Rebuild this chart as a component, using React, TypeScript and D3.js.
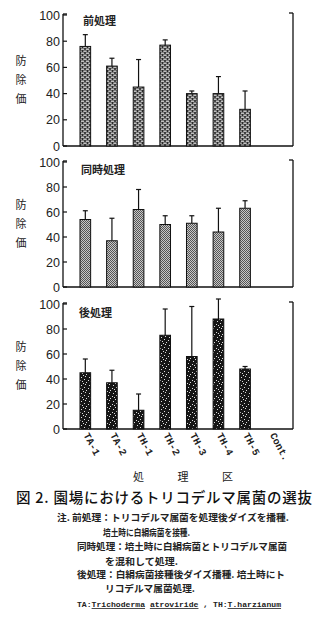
import React from "react";
import * as d3 from "d3";

const categories = ["TA-1", "TA-2", "TH-1", "TH-2", "TH-3", "TH-4", "TH-5", "Cont."];
const yTicks = [0, 20, 40, 60, 80, 100];

const preValues = [76, 61, 45, 77, 40, 40, 28, 0];
const preErr = [85, 67, 66, 81, 42, 53, 42, 0];
const simValues = [54, 37, 62, 50, 51, 44, 63, 0];
const simErr = [61, 55, 78, 57, 57, 63, 69, 0];
const postValues = [45, 37, 15, 75, 58, 88, 48, 0];
const postErr = [56, 47, 28, 96, 98, 104, 50, 0];

const panelTitles = ["前処理", "同時処理", "後処理"];
const yLabelChars = ["防", "除", "価"];
const xTitle = "処 理 区";
const figTitle = "図 2.  園場におけるトリコデルマ属菌の選抜";
const notes = [
  "注. 前処理：トリコデルマ属菌を処理後ダイズを播種.",
  "培土時に白絹病菌を接種.",
  "同時処理：培土時に白絹病菌とトリコデルマ属菌",
  "を混和して処理.",
  "後処理：白絹病菌接種後ダイズ播種. 培土時にト",
  "リコデルマ属菌処理.",
];
const speciesNote = [
  { t: "TA:", u: false },
  { t: "Trichoderma", u: true },
  { t: " ", u: false },
  { t: "atroviride", u: true },
  { t: " , TH:", u: false },
  { t: "T.harzianum", u: true },
];

const W = 322;
const H = 626;
const axisLeft = 63;
const axisRight = 293;

const panels = [
  { title: panelTitles[0], values: preValues, err: preErr, y0: 146, y100: 15, fill: "url(#brick)", titleX: 83, titleY: 25 },
  { title: panelTitles[1], values: simValues, err: simErr, y0: 287, y100: 162, fill: "url(#grey)", titleX: 81, titleY: 174 },
  { title: panelTitles[2], values: postValues, err: postErr, y0: 429, y100: 304, fill: "url(#dark)", titleX: 79, titleY: 317 },
];

const x = d3.scaleBand<string>().domain(categories).range([72, 285]).paddingInner(0.6).paddingOuter(0.3);

const noteLayout = [
  { x: 57, y: 521, w: 232 },
  { x: 103, y: 536, w: 87 },
  { x: 77, y: 550, w: 210 },
  { x: 105, y: 565, w: 73 },
  { x: 77, y: 578, w: 208 },
  { x: 105, y: 592, w: 90 },
];

const font = "'Liberation Sans', Arial, sans-serif";
const cjk = "'Noto Sans CJK JP', sans-serif";
const mono = "'Liberation Mono', 'DejaVu Sans Mono', monospace";

export default function App() {
  const speckles = [
    [1, 1], [4, 3], [2, 5], [6, 6], [5, 0], [0, 4], [3, 7],
  ];
  return (
    <svg width={W} height={H} style={{ position: "absolute", left: 0, top: 0, background: "#fff" }}>
      <defs>
        <pattern id="brick" width="5" height="4" patternUnits="userSpaceOnUse">
          <rect width="5" height="4" fill="#2a2a2a" />
          <rect x="0.8" y="0.6" width="3.4" height="1.1" fill="#fff" />
          <rect x="0" y="2.6" width="1.7" height="1.1" fill="#fff" />
          <rect x="3.3" y="2.6" width="1.7" height="1.1" fill="#fff" />
        </pattern>
        <pattern id="grey" width="2" height="2" patternUnits="userSpaceOnUse">
          <rect width="2" height="2" fill="#c8c8c8" />
          <rect width="1" height="1" fill="#555" />
          <rect x="1" y="1" width="1" height="1" fill="#555" />
        </pattern>
        <pattern id="dark" width="8" height="8" patternUnits="userSpaceOnUse">
          <rect width="8" height="8" fill="#161616" />
          {speckles.map(([a, b], i) => (
            <rect key={i} x={a} y={b} width="1" height="1" fill="#ddd" />
          ))}
        </pattern>
      </defs>

      {panels.map((p, pi) => {
        const y = d3.scaleLinear().domain([0, 100]).range([p.y0, p.y100]);
        const top = y(100);
        const mid = (p.y0 + top) / 2;
        return (
          <g key={pi}>
            <line x1={axisLeft} x2={axisLeft} y1={top - 1} y2={p.y0} stroke="#111" strokeWidth={1.3} />
            <line x1={axisLeft} x2={axisLeft + 4} y1={top - 1} y2={top - 1} stroke="#111" strokeWidth={1.3} />
            <line x1={axisLeft} x2={axisRight} y1={p.y0} y2={p.y0} stroke="#111" strokeWidth={1.3} />
            <line x1={axisRight} x2={axisRight} y1={top - 2} y2={p.y0} stroke="#111" strokeWidth={1.3} />
            <line x1={axisRight - 4} x2={axisRight} y1={top - 2} y2={top - 2} stroke="#111" strokeWidth={1.3} />
            {yTicks.map((t) => (
              <g key={t}>
                <line x1={axisLeft} x2={axisLeft + 4} y1={y(t)} y2={y(t)} stroke="#111" strokeWidth={1.2} />
                <text x={axisLeft - 3} y={y(t)} dy="0.36em" textAnchor="end" fontFamily={font} fontSize={12.5} fill="#222">
                  {t}
                </text>
              </g>
            ))}
            {yLabelChars.map((c, i) => (
              <text key={c} x={21} y={mid + (i - 1) * 19} dy="0.36em" textAnchor="middle" fontFamily={cjk} fontSize={11} fill="#222">
                {c}
              </text>
            ))}
            <text x={p.titleX} y={p.titleY} fontFamily={cjk} fontWeight={700} fontSize={11} fill="#222">
              {p.title}
            </text>
            {categories.map((c, i) => {
              const v = p.values[i];
              if (!v) return null;
              const bx = x(c)!;
              const bw = x.bandwidth();
              const cx = bx + bw / 2;
              return (
                <g key={c}>
                  <line x1={cx} x2={cx} y1={y(v)} y2={y(p.err[i])} stroke="#111" strokeWidth={1.2} />
                  <line x1={cx - 2.5} x2={cx + 2.5} y1={y(p.err[i])} y2={y(p.err[i])} stroke="#111" strokeWidth={1.2} />
                  <rect x={bx} y={y(v)} width={bw} height={p.y0 - y(v)} fill={p.fill} stroke="#111" strokeWidth={1} />
                </g>
              );
            })}
          </g>
        );
      })}

      {categories.map((c) => {
        const cx = x(c)! + x.bandwidth() / 2;
        return (
          <text key={c} transform={`translate(${cx - 2},${435}) rotate(62)`} fontFamily={mono} fontWeight={700} fontSize={10} fill="#222">
            {c}
          </text>
        );
      })}

      <text x={133} y={481} textLength={100} lengthAdjust="spacing" fontFamily={cjk} fontSize={11} fill="#222">
        {xTitle}
      </text>
      <text x={16} y={503} textLength={296} lengthAdjust="spacing" fontFamily={cjk} fontWeight={500} fontSize={14.5} fill="#111">
        {figTitle}
      </text>
      {notes.map((n, i) => (
        <text key={i} x={noteLayout[i].x} y={noteLayout[i].y} textLength={noteLayout[i].w} lengthAdjust="spacingAndGlyphs" fontFamily={cjk} fontWeight={700} fontSize={9.5} fill="#222">
          {n}
        </text>
      ))}
      <text x={77} y={607} fontFamily={mono} fontWeight={700} fontSize={8.1} fill="#222">
        {speciesNote.map((s, i) => (
          <tspan key={i} textDecoration={s.u ? "underline" : undefined}>{s.t}</tspan>
        ))}
      </text>
    </svg>
  );
}
